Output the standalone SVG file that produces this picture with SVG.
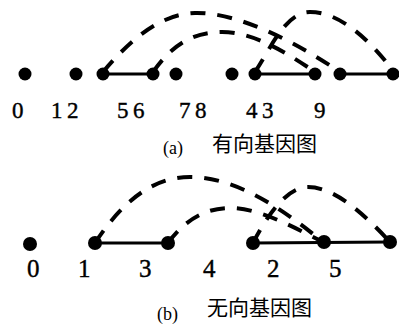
<svg xmlns="http://www.w3.org/2000/svg" width="399" height="325" viewBox="0 0 399 325">
<style>
.dot{fill:#000}
.solid{stroke:#000;stroke-width:3;fill:none}
.dash{stroke:#000;stroke-width:4;fill:none;stroke-dasharray:15 12}
.num{font-family:"Liberation Serif","Times New Roman",serif;fill:#000;stroke:#000;stroke-width:0.4}
.cap{font-family:"Liberation Serif","Noto Sans CJK SC",serif;font-size:18px;fill:#000}
.cjk{font-family:"Noto Sans CJK SC","Noto Sans CJK JP",sans-serif;font-size:21px;fill:#000}
</style>
<rect width="399" height="325" fill="#fff"/>
<g id="connectors">
<line class="solid" x1="103" y1="74" x2="153" y2="74"/>
<line class="solid" x1="255" y1="74" x2="315" y2="74"/>
<line class="solid" x1="340" y1="74" x2="394" y2="74"/>
<path class="dash" d="M103,72 C130,40 160,14 195,13 C240,12 300,45 340,72"/>
<path class="dash" d="M153,72 C170,48 190,32 222,32 C255,32 290,55 315,72"/>
<path class="dash" d="M255,72 C270,50 285,12 310,12 C340,12 370,40 394,72"/>
<line class="solid" x1="95" y1="243" x2="168" y2="243"/>
<line class="solid" x1="253" y1="243" x2="390" y2="242"/>
<path class="dash" d="M95,243 C120,205 150,177 190,177 C240,177 290,215 323,242"/>
<path class="dash" d="M168,243 C185,220 205,208 230,208 C260,208 295,228 323,242"/>
<path class="dash" d="M253,243 C265,220 285,187 308,187 C335,187 365,215 390,242"/>
</g>
<g id="graph-a">
<g id="a-n0"><circle class="dot" cx="25" cy="74" r="6.5"/></g>
<g id="a-n1"><circle class="dot" cx="76" cy="74" r="6.5"/></g>
<g id="a-n2"><circle class="dot" cx="103" cy="74" r="6.5"/></g>
<g id="a-n3"><circle class="dot" cx="153" cy="74" r="6.5"/></g>
<g id="a-n4"><circle class="dot" cx="176" cy="74" r="6.5"/></g>
<g id="a-n5"><circle class="dot" cx="232" cy="74" r="6.5"/></g>
<g id="a-n6"><circle class="dot" cx="255" cy="74" r="6.5"/></g>
<g id="a-n7"><circle class="dot" cx="315" cy="74" r="6.5"/></g>
<g id="a-n8"><circle class="dot" cx="340" cy="74" r="6.5"/></g>
<g id="a-n9"><circle class="dot" cx="393" cy="74" r="6.5"/></g>
<g id="a-labels" class="num" font-size="23" letter-spacing="4.5">
<text x="12" y="118">0</text>
<text x="51" y="118">12</text>
<text x="117" y="118">56</text>
<text x="179" y="118">78</text>
<text x="246" y="118">43</text>
<text x="314" y="118">9</text>
</g>
<g id="caption-a">
<text class="cap" x="163" y="154">(a)</text>
<text class="cjk" x="212" y="151">有向基因图</text>
</g>
</g>
<g id="graph-b">
<g id="b-n0"><circle class="dot" cx="30" cy="244" r="7"/></g>
<g id="b-n1"><circle class="dot" cx="95" cy="243" r="7"/></g>
<g id="b-n3"><circle class="dot" cx="168" cy="243" r="7"/></g>
<g id="b-n2"><circle class="dot" cx="253" cy="243" r="7"/></g>
<g id="b-n5"><circle class="dot" cx="324" cy="242" r="7"/></g>
<g id="b-n6"><circle class="dot" cx="390" cy="242" r="7"/></g>
<g id="b-labels" class="num" font-size="25">
<text x="27" y="277">0</text>
<text x="78" y="277">1</text>
<text x="139" y="277">3</text>
<text x="203" y="277">4</text>
<text x="267" y="277">2</text>
<text x="329" y="277">5</text>
</g>
<g id="caption-b">
<text class="cap" x="157" y="320">(b)</text>
<text class="cjk" x="207" y="315">无向基因图</text>
</g>
</g>
</svg>
